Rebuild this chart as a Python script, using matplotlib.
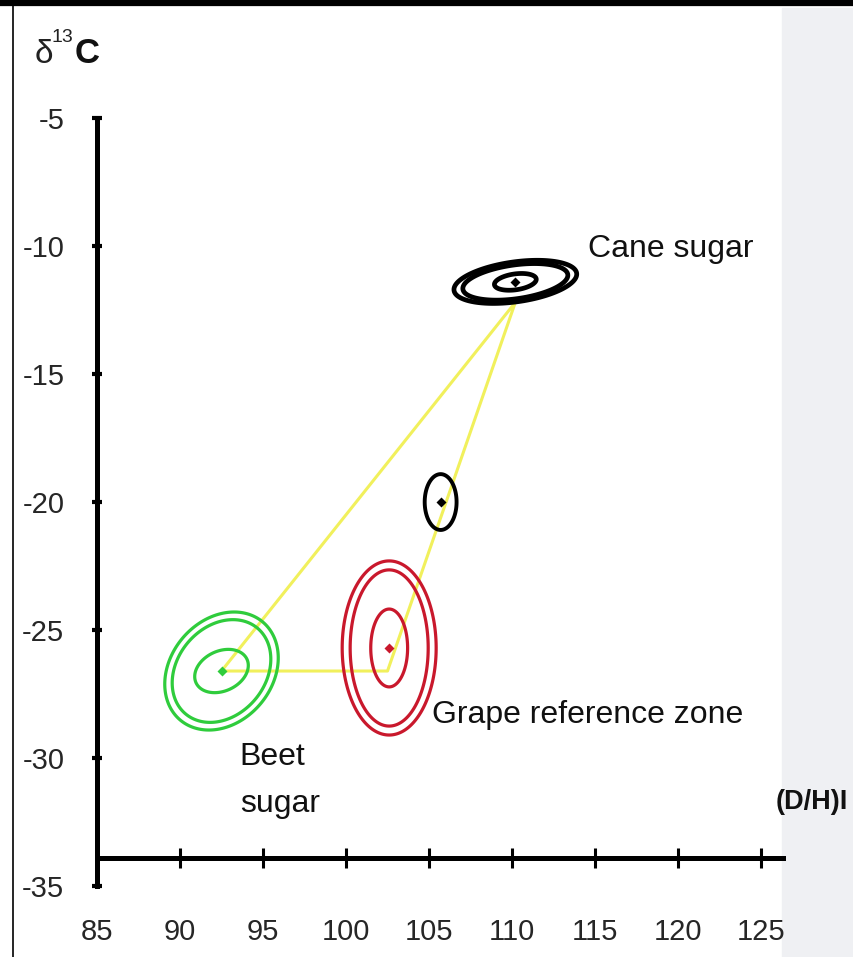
import numpy as np
import matplotlib
matplotlib.use("Agg")
import matplotlib.pyplot as plt
from matplotlib.lines import Line2D
from matplotlib.patches import Rectangle

plt.rcParams['font.family'] = ['Liberation Sans', 'DejaVu Sans']

# axis ticks
x_ticks = [85, 90, 95, 100, 105, 110, 115, 120, 125]
y_ticks = [-5, -10, -15, -20, -25, -30, -35]

# zone centres: (D/H) and delta13C
zone_names = ['Cane sugar', 'middle', 'Grape reference zone', 'Beet sugar']
zone_x = [110.2, 105.7, 102.6, 92.5]
zone_y = [-11.4, -20.0, -25.7, -26.6]
zone_colors = ['black', 'black', '#c9182c', '#2fcc3c']

# ring half-widths (x units) and half-heights (y units), tilt in degrees
ring_w = [[3.73, 3.19, 1.27], [0.96], [2.83, 2.35, 1.11], [3.86, 3.37, 1.69]]
ring_h = [[0.78, 0.66, 0.31], [1.09], [3.40, 3.05, 1.52], [1.99, 1.72, 0.78]]
ring_ang = [[8, 8, 8], [0], [0, 0, 0], [50, 50, 25]]
ring_lw = [3.4, 2.8, 2.3, 2.3]

# yellow mixing triangle: beet -> grape -> cane -> beet
tri_x = [92.5, 102.5, 110.2, 92.5]
tri_y = [-26.6, -26.6, -12.2, -26.6]

fig = plt.figure(figsize=(8.54, 9.57), dpi=100)
fig.patch.set_facecolor('white')

ax = fig.add_axes([0, 0, 1, 1])
ax.set_facecolor('none')
ax.set_xlim(79.157, 130.6)
ax.set_ylim(-37.77, -0.391)

# grey panel on the right edge
ax.add_patch(Rectangle((782 / 854, 0), 72 / 854, 1 - 8 / 957,
                       transform=ax.transAxes, color='#eff0f3', zorder=0))

# pixels per data unit
p0 = ax.transData.transform((0, 0))
sx = ax.transData.transform((1, 0))[0] - p0[0]
sy = ax.transData.transform((0, 1))[1] - p0[1]

def ring(cx, cy, w, h, ang, color, lw):
    t = np.linspace(0, 2 * np.pi, 240, endpoint=False)
    px = w * sx * np.cos(t)
    py = h * sy * np.sin(t)
    c, s = np.cos(np.radians(ang)), np.sin(np.radians(ang))
    ax.fill(cx + (px * c - py * s) / sx, cy + (px * s + py * c) / sy,
            fill=False, edgecolor=color, lw=lw, zorder=3)

ax.plot(tri_x, tri_y, color='#f1f05c', lw=2.2, zorder=2, solid_joinstyle='round')

for i in range(len(zone_x)):
    for w, h, a in zip(ring_w[i], ring_h[i], ring_ang[i]):
        ring(zone_x[i], zone_y[i], w, h, a, zone_colors[i], ring_lw[i])
    ax.plot(zone_x[i], zone_y[i], marker='D', ms=5, color=zone_colors[i],
            mec='none', zorder=4)

# axes lines
for side in ['top', 'right']:
    ax.spines[side].set_visible(False)
ax.spines['left'].set_position(('data', 85))
ax.spines['left'].set_bounds(-35, -5)
ax.spines['bottom'].set_position(('data', -33.9))
ax.spines['bottom'].set_bounds(85, 126.3)
for side in ['left', 'bottom']:
    ax.spines[side].set_linewidth(3.6)
    ax.spines[side].set_zorder(5)

ax.set_xticks(x_ticks)
ax.set_yticks(y_ticks)
ax.set_xticklabels([str(v) for v in x_ticks])
ax.set_yticklabels([str(v) for v in y_ticks])
ax.tick_params(axis='y', direction='inout', length=7, width=3, pad=20,
               labelsize=21, labelcolor='#262626')
ax.tick_params(axis='x', direction='inout', length=14, width=2.2, pad=36,
               labelsize=21, labelcolor='#262626')

# labels
lab = dict(fontsize=23, color='#111111')
ax.text(114.6, -10.43, 'Cane sugar', ha='left', va='baseline', **lab)
ax.text(105.2, -28.63, 'Grape reference zone', ha='left', va='baseline', **lab)
ax.text(93.6, -30.27, 'Beet', ha='left', va='baseline', **lab)
ax.text(93.6, -32.1, 'sugar', ha='left', va='baseline', **lab)
ax.text(125.9, -32.0, '(D/H)I', ha='left', va='baseline', fontsize=19.5,
        fontweight='bold', color='#111111')

fig.text(35 / 854, 1 - 63 / 957, 'δ', fontsize=24, color='#222222', va='baseline')
fig.text(52 / 854, 1 - 42 / 957, '13', fontsize=14, color='#222222', va='baseline')
fig.text(75 / 854, 1 - 63 / 957, 'C', fontsize=25, fontweight='bold',
         color='#111111', va='baseline')

# slide frame remnants
fig.add_artist(Line2D([0, 1], [1 - 3 / 957] * 2, transform=fig.transFigure,
                      color='black', lw=4.5))
fig.add_artist(Line2D([13 / 854] * 2, [0, 1], transform=fig.transFigure,
                      color='black', lw=1.2))

fig.savefig('out.png', dpi=100)
